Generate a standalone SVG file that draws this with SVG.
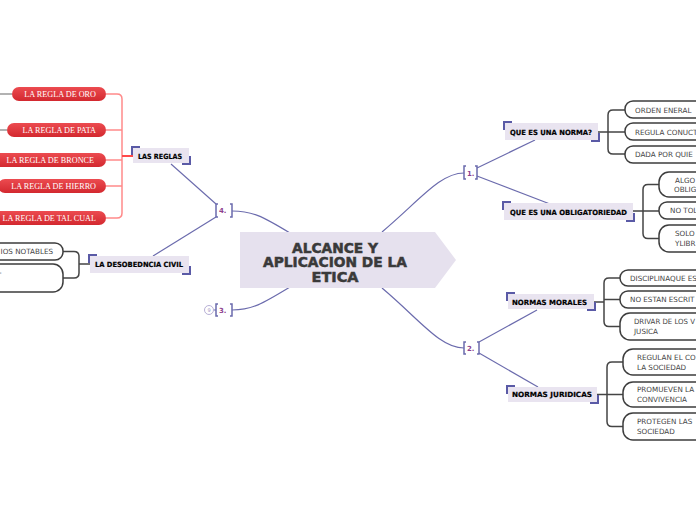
<svg xmlns="http://www.w3.org/2000/svg" width="696" height="520" viewBox="0 0 696 520">
<defs>
<linearGradient id="red" x1="0" y1="0" x2="0" y2="1">
<stop offset="0" stop-color="#ec4b50"/>
<stop offset="1" stop-color="#d3282f"/>
</linearGradient>
<style>
.lnk{fill:none;stroke:#6b6bad;stroke-width:1.2}
.brk{fill:none;stroke:#6b6bad;stroke-width:1.5}
.cor{fill:none;stroke:#5a5aa6;stroke-width:2}
.gry{fill:none;stroke:#444;stroke-width:1.5}
.pnk{fill:none;stroke:#ff8a8a;stroke-width:1.5}
.lbl{fill:#e9e4f0}
.lt{font-family:"DejaVu Sans",sans-serif;font-weight:bold;font-size:7.2px;fill:#000;stroke:#000;stroke-width:0.2}
.num{font-family:"DejaVu Sans",sans-serif;font-weight:bold;font-size:7px;fill:#8e3f8e}
.box{fill:#fff;stroke:#3d3d3d;stroke-width:1.5}
.bt{font-family:"DejaVu Sans",sans-serif;font-size:7.2px;fill:#444}
.pill{fill:url(#red)}
.pt{font-family:"Liberation Serif",serif;font-size:8.2px;fill:#fff;text-anchor:end}
.ct{font-family:"DejaVu Sans",sans-serif;font-weight:bold;font-size:13.5px;fill:#3a3a3a;stroke:#3a3a3a;stroke-width:0.5;text-anchor:middle}
</style>
</defs>
<rect width="696" height="520" fill="#fff"/>

<g id="connectors">
<path class="lnk" d="M290,233 C262,216 252,211 232,211"/>
<path class="lnk" d="M290,287 C262,304 252,310 232,310"/>
<path class="lnk" d="M382,232 C420,200 440,173 464,173"/>
<path class="lnk" d="M382,288 C420,320 440,348 464,348"/>
<path class="lnk" d="M216,204 L171,164"/>
<path class="lnk" d="M216,217 L153,256"/>
<path class="lnk" d="M477,168 L535,140"/>
<path class="lnk" d="M477,176 L550,204"/>
<path class="lnk" d="M479,342 L537,310"/>
<path class="lnk" d="M479,353 L538,387"/>
<path class="lnk" d="M214,310 H216"/>
<path class="gry" d="M598,132 H625 M625,110 H613 Q608,110 608,115 V149 Q608,154 613,154 H625"/>
<path class="gry" d="M633,211 H659 M659,184.5 H648 Q643,184.5 643,189.5 V233.5 Q643,238.5 648,238.5 H659"/>
<path class="gry" d="M594,302 H604 M604,299.5 H620 M620,278 H609 Q604,278 604,283 V321.5 Q604,326.5 609,326.5 H620"/>
<path class="gry" d="M597,394.5 H623 M623,362 H612 Q607,362 607,367 V421.5 Q607,426.5 612,426.5 H623"/>
<path class="gry" d="M90,264 H79 M63,251.5 H74 Q79,251.5 79,256.5 V273 Q79,278 74,278 H63"/>
<path class="pnk" d="M106,94 H117 Q122,94 122,99 V213 Q122,218 117,218 H106 M106,130 H122 M106,160 H122 M106,186 H122"/>
<path d="M122,156 H133" fill="none" stroke="#ff4a4a" stroke-width="2"/>
<path d="M0,94 H12 M0,130 H7" fill="none" stroke="#999" stroke-width="1.5"/>
</g>

<g id="center">
<polygon points="240,232 435,232 456,260 435,288 240,288" fill="#e6e1ee"/>
<text class="ct" x="335" y="252.5" textLength="86" lengthAdjust="spacingAndGlyphs">ALCANCE Y</text>
<text class="ct" x="335" y="267" textLength="144" lengthAdjust="spacingAndGlyphs">APLICACION DE LA</text>
<text class="ct" x="335" y="281.5" textLength="47" lengthAdjust="spacingAndGlyphs">ETICA</text>
</g>

<g id="n1">
<path class="brk" d="M466,166 H464 V179 H466 M475,166 H477 V179 H475"/>
<text class="num" x="467" y="175.5">1.</text>
</g>
<g id="n2">
<path class="brk" d="M466,342 H464 V354 H466 M477,342 H479 V354 H477"/>
<text class="num" x="467" y="350.5">2.</text>
</g>
<g id="n3">
<circle cx="209" cy="310" r="4.5" fill="#fff" stroke="#b7b0d6" stroke-width="1"/>
<text x="209" y="312" font-family="DejaVu Sans,sans-serif" font-size="5" fill="#9a93c4" text-anchor="middle">9</text>
<path class="brk" d="M218,304 H216 V316 H218 M230,304 H232 V316 H230"/>
<text class="num" x="219" y="312.5">3.</text>
</g>
<g id="n4">
<path class="brk" d="M218,204 H216 V217 H218 M230,204 H232 V217 H230"/>
<text class="num" x="219" y="213">4.</text>
</g>

<g id="norma">
<rect class="lbl" x="505" y="123" width="93" height="17"/>
<path class="cor" d="M504,130 V122 H512 M599,133 V141 H591"/>
<text class="lt" x="510" y="134.5" textLength="82" lengthAdjust="spacingAndGlyphs">QUE ES UNA NORMA?</text>
</g>
<g id="obligatoriedad">
<rect class="lbl" x="504" y="203" width="129" height="17"/>
<path class="cor" d="M503,210 V202 H511 M634,213 V221 H626"/>
<text class="lt" x="510" y="214.5" textLength="117" lengthAdjust="spacingAndGlyphs">QUE ES UNA OBLIGATORIEDAD</text>
</g>
<g id="morales">
<rect class="lbl" x="508" y="294" width="86" height="15"/>
<path class="cor" d="M507,301 V293 H515 M595,302 V310 H587"/>
<text class="lt" x="512" y="304.5" textLength="75" lengthAdjust="spacingAndGlyphs">NORMAS MORALES</text>
</g>
<g id="juridicas">
<rect class="lbl" x="508" y="387" width="89" height="15"/>
<path class="cor" d="M507,394 V386 H515 M598,395 V403 H590"/>
<text class="lt" x="512" y="397" textLength="80" lengthAdjust="spacingAndGlyphs">NORMAS JURIDICAS</text>
</g>
<g id="reglas">
<rect class="lbl" x="133" y="148" width="56" height="15"/>
<path class="cor" d="M132,155 V147 H140 M190,156 V164 H182"/>
<text class="lt" x="138" y="158.5" textLength="44" lengthAdjust="spacingAndGlyphs">LAS REGLAS</text>
</g>
<g id="desobediencia">
<rect class="lbl" x="90" y="256" width="99" height="17"/>
<path class="cor" d="M89,263 V255 H97 M190,266 V274 H182"/>
<text class="lt" x="95" y="267" textLength="88" lengthAdjust="spacingAndGlyphs">LA DESOBEDNCIA CIVIL</text>
</g>

<g id="orden"><rect class="box" x="625" y="101" width="100" height="17" rx="8"/><text class="bt" x="635" y="112.6">ORDEN ENERAL</text></g>
<g id="regula"><rect class="box" x="625" y="123" width="100" height="17" rx="8"/><text class="bt" x="635" y="134.6">REGULA CONUCT</text></g>
<g id="dada"><rect class="box" x="625" y="146" width="100" height="17" rx="8"/><text class="bt" x="635" y="157.2">DADA POR QUIE</text></g>

<g id="algo"><rect class="box" x="659" y="172" width="80" height="25" rx="10"/><text class="bt" x="675" y="182.6">ALGO</text><text class="bt" x="674" y="192.4">OBLIG</text></g>
<g id="notol"><rect class="box" x="659" y="202" width="80" height="17" rx="8"/><text class="bt" x="670" y="213.2">NO TOL</text></g>
<g id="solo"><rect class="box" x="659" y="225" width="80" height="27" rx="10"/><text class="bt" x="675" y="236">SOLO</text><text class="bt" x="675" y="246">YLIBR</text></g>

<g id="disciplina"><rect class="box" x="620" y="270" width="100" height="16" rx="8"/><text class="bt" x="630" y="280.6">DISCIPLINAQUE ES</text></g>
<g id="noestan"><rect class="box" x="620" y="291" width="100" height="17" rx="8"/><text class="bt" x="630" y="302.1">NO ESTAN ESCRIT</text></g>
<g id="drivar"><rect class="box" x="620" y="313" width="100" height="27" rx="10"/><text class="bt" x="634" y="323.6" textLength="61" lengthAdjust="spacingAndGlyphs">DRIVAR DE LOS V</text><text class="bt" x="634" y="333.6">JUSICA</text></g>

<g id="regulan"><rect class="box" x="623" y="349" width="100" height="26" rx="10"/><text class="bt" x="637" y="359.6">REGULAN EL CO</text><text class="bt" x="637" y="369.6">LA SOCIEDAD</text></g>
<g id="promueven"><rect class="box" x="623" y="382" width="100" height="25" rx="10"/><text class="bt" x="637" y="391.6">PROMUEVEN LA</text><text class="bt" x="637" y="401.6">CONVIVENCIA</text></g>
<g id="protegen"><rect class="box" x="623" y="413" width="100" height="27" rx="10"/><text class="bt" x="637" y="423.6">PROTEGEN LAS</text><text class="bt" x="637" y="433.6">SOCIEDAD</text></g>

<g id="notables"><rect class="box" x="-40" y="243" width="103" height="17" rx="8"/><text class="bt" x="53" y="254" text-anchor="end">IOS NOTABLES</text></g>
<g id="dash"><rect class="box" x="-40" y="264" width="103" height="28" rx="10"/><text class="bt" x="-1" y="275">-</text></g>

<g id="oro"><rect class="pill" x="12" y="87" width="94" height="14" rx="7"/><text class="pt" x="96" y="96.8">LA REGLA DE ORO</text></g>
<g id="pata"><rect class="pill" x="7" y="123" width="99" height="14" rx="7"/><text class="pt" x="96" y="132.8">LA REGLA DE PATA</text></g>
<g id="bronce"><rect class="pill" x="-10" y="153" width="116" height="14" rx="7"/><text class="pt" x="94" y="162.8">LA REGLA DE BRONCE</text></g>
<g id="hierro"><rect class="pill" x="-2" y="179" width="108" height="14" rx="7"/><text class="pt" x="96" y="188.8">LA REGLA DE HIERRO</text></g>
<g id="talcual"><rect class="pill" x="-15" y="211" width="121" height="14" rx="7"/><text class="pt" x="96" y="220.8">LA REGLA DE TAL CUAL</text></g>
</svg>
